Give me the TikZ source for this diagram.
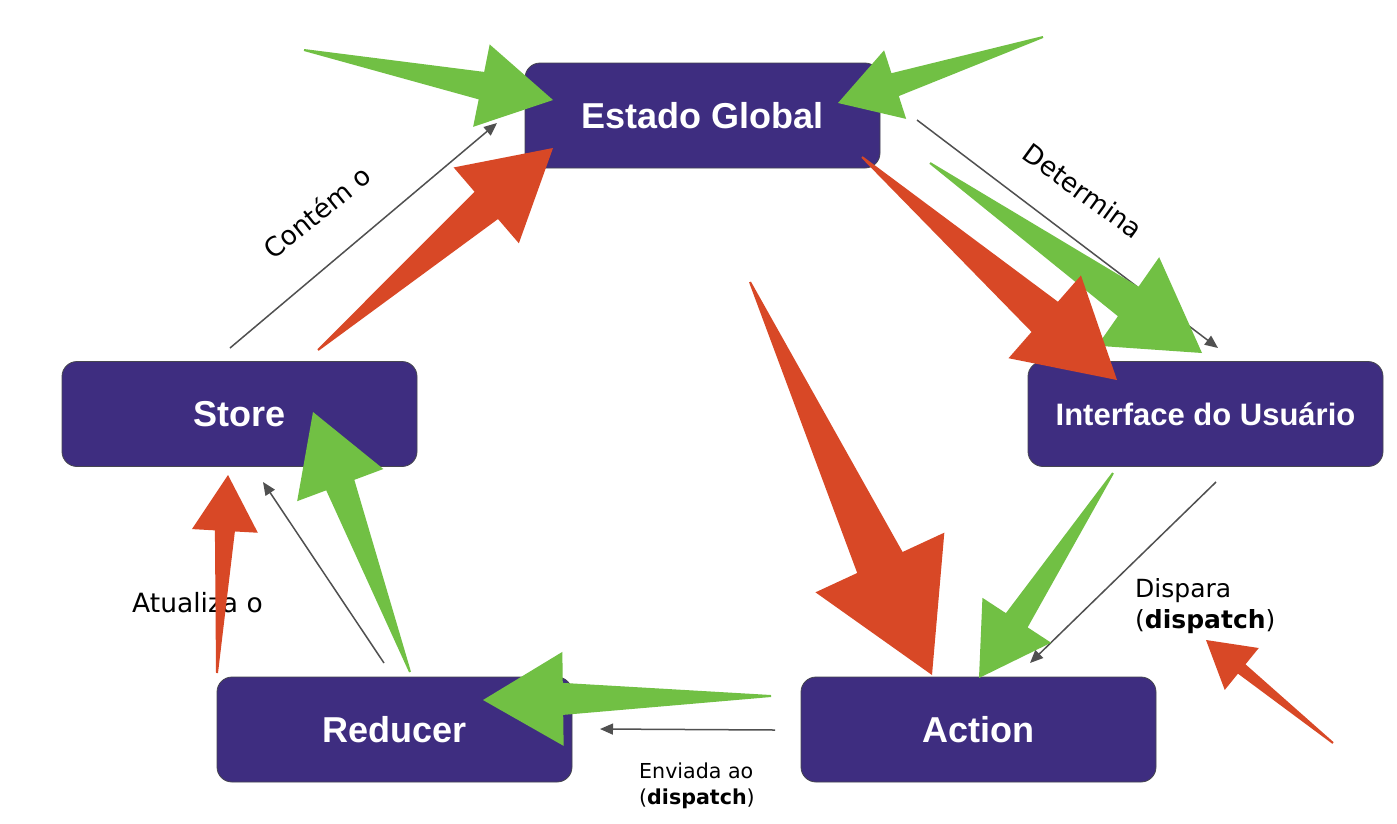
\documentclass[tikz,border=0pt]{standalone}
\usepackage{fontspec}
\setmainfont{Liberation Sans}
\newfontfamily\lblfont{DejaVu Sans}
\usetikzlibrary{calc,arrows.meta}
\definecolor{boxpurple}{RGB}{62,45,128}
\definecolor{boxedge}{RGB}{70,70,80}
\definecolor{bigred}{RGB}{216,72,38}
\definecolor{biggreen}{RGB}{113,192,68}
\definecolor{linegray}{RGB}{80,80,80}
% #1 colour, #2 tail, #3 tip, #4 head length, #5 head half width, #6 neck half width, #7 tail half width
\newcommand\fatarrow[7]{%
  \coordinate (fa-n) at ($(#3)!#4pt!(#2)$);
  \fill[#1] ($(#2)!#7pt!90:(#3)$) -- ($(fa-n)!#6pt!90:(#3)$) -- ($(fa-n)!#5pt!90:(#3)$) -- (#3)
    -- ($(fa-n)!#5pt!-90:(#3)$) -- ($(fa-n)!#6pt!-90:(#3)$) -- ($(#2)!#7pt!-90:(#3)$) -- cycle;}
\tikzset{
  box/.style={rectangle, rounded corners=15pt, fill=boxpurple, draw=boxedge, line width=0.8pt,
    minimum width=355pt, minimum height=105pt, text=white, inner sep=0pt,
    font=\bfseries\fontsize{36}{40}\selectfont},
  conn/.style={draw=linegray, line width=1.5pt, -{Triangle[length=13pt,width=11pt]}},
  lbl/.style={inner sep=0pt, text=black, font=\lblfont\fontsize{26.5}{30}\selectfont},
}
\begin{document}
\begin{tikzpicture}[x=1pt,y=-1pt]
\useasboundingbox[fill=white] (0,0) rectangle (1397,823);
% boxes
\node[box] (est) at (702.5,115.5) {Estado Global};
\node[box] (store) at (239.5,414) {Store};
\node[box, font=\bfseries\fontsize{31}{36}\selectfont] (ui) at (1205.5,414) {Interface do Usuário};
\node[box] (red) at (394.5,729.5) {Reducer};
\node[box] (act) at (978.5,729.5) {Action};
% connector end points
\coordinate (c1s) at (230,348);  \coordinate (c1e) at (497,123);
\coordinate (c2s) at (917,120);  \coordinate (c2e) at (1218,348);
\coordinate (c3s) at (1216,482); \coordinate (c3e) at (1030,663);
\coordinate (c4s) at (775,730);  \coordinate (c4e) at (600,729);
\coordinate (c5s) at (384,663);  \coordinate (c5e) at (263,482);
\draw[conn] (c1s) -- (c1e);
\draw[conn] (c2s) -- (c2e);
\draw[conn] (c3s) -- (c3e);
\draw[conn] (c4s) -- (c4e);
\draw[conn] (c5s) -- (c5e);
% labels
\node[lbl, rotate=39] (lcont) at (317,212) {Contém o};
\node[lbl, rotate=-36] (ldet) at (1083,191) {Determina};
\node[lbl, anchor=west] (latu) at (132,603) {Atualiza o};
\node[lbl, anchor=west, align=left, font=\lblfont\fontsize{20.6}{26}\selectfont] (lenv) at (639,786) {Enviada ao\\(\textbf{dispatch})};
\node[lbl, anchor=west, align=left, font=\lblfont\fontsize{25}{31}\selectfont] (ldis) at (1135,606) {Dispara\\(\textbf{dispatch})};
% big annotation arrows: tails and tips
\coordinate (g1t) at (304,50);   \coordinate (g1h) at (553,100);
\coordinate (g2t) at (1043,37);  \coordinate (g2h) at (838,103);
\coordinate (g3t) at (930,163);  \coordinate (g3h) at (1202,353);
\coordinate (g4t) at (1113,473); \coordinate (g4h) at (979,678);
\coordinate (g5t) at (771,696);  \coordinate (g5h) at (483,700);
\coordinate (g6t) at (410,672);  \coordinate (g6h) at (313,412);
\coordinate (r1t) at (862,157);  \coordinate (r1h) at (1117,380);
\coordinate (r2t) at (318,350);  \coordinate (r2h) at (553,148);
\coordinate (r3t) at (750,282);  \coordinate (r3h) at (932,675);
\coordinate (r4t) at (1333,743); \coordinate (r4h) at (1206,640);
\coordinate (r5t) at (217,673);  \coordinate (r5h) at (228,475);
\fatarrow{biggreen}{g1t}{g1h}{73}{42}{14}{1}
\fatarrow{biggreen}{g2t}{g2h}{60}{36}{12}{1}
\fatarrow{biggreen}{g3t}{g3h}{90}{54}{18}{1}
\fatarrow{biggreen}{g4t}{g4h}{69}{41}{13}{1}
\fatarrow{biggreen}{g5t}{g5h}{80}{47}{16}{1}
\fatarrow{biggreen}{g6t}{g6h}{78}{46}{15}{1}
\fatarrow{bigred}{r1t}{r1h}{96}{55}{20}{1}
\fatarrow{bigred}{r2t}{r2h}{88}{50}{18}{1}
\fatarrow{bigred}{r3t}{r3h}{124}{71}{25}{1}
\fatarrow{bigred}{r4t}{r4h}{46}{27}{6}{1}
\fatarrow{bigred}{r5t}{r5h}{56}{33}{10}{1}
\end{tikzpicture}
\end{document}
